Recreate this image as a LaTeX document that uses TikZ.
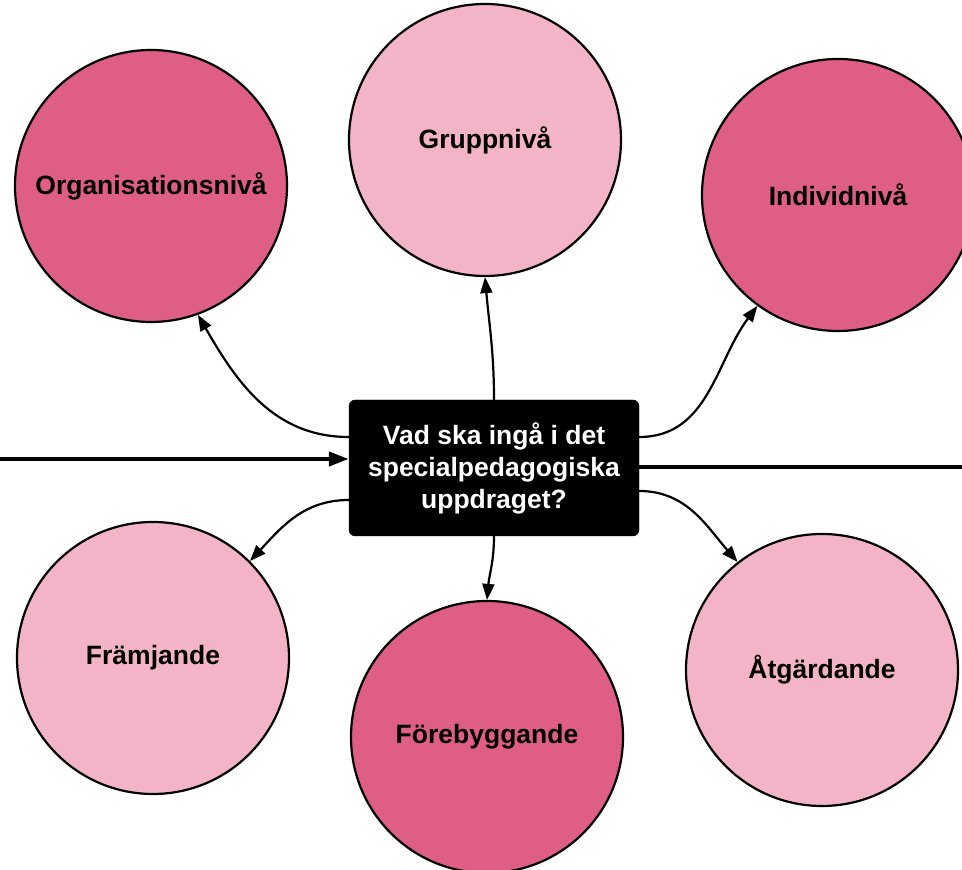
\documentclass[tikz,border=0pt]{standalone}
\usepackage{fontspec}
\setmainfont{Liberation Sans}
\usetikzlibrary{arrows.meta}
\definecolor{darkpink}{HTML}{DE5E86}
\definecolor{lightpink}{HTML}{F4B4C8}
\tikzset{
  bubble/.style={circle, draw=black, line width=2.2pt, minimum size=272pt, inner sep=0pt,
    font=\fontsize{26.5}{32}\selectfont\bfseries},
  darkb/.style={bubble, fill=darkpink},
  lightb/.style={bubble, fill=lightpink},
  qbox/.style={rectangle, rounded corners=6pt, fill=black, draw=black, minimum width=290pt, minimum height=136pt,
    text=white, align=center, font=\fontsize{26.5}{32}\selectfont\bfseries},
  conn/.style={line width=2.2pt, -{Triangle[length=16pt,width=12pt]}},
  thick line/.style={line width=4pt}
}
\begin{document}
\begin{tikzpicture}[x=1pt,y=1pt]
\useasboundingbox (0,0) rectangle (962,870);
\node[qbox] (box) at (494,402) {Vad ska ingå i det\\specialpedagogiska\\uppdraget?};
\node[darkb] (org) at (151,684) {Organisationsnivå};
\node[lightb] (grp) at (485,730) {Gruppnivå};
\node[darkb] (ind) at (838,675) {Individnivå};
\node[lightb] (fram) at (153,212) {Främjande};
\node[darkb] (fore) at (487,133) {Förebyggande};
\node[lightb] (atg) at (822,200) {Åtgärdande};
\coordinate (lend) at (0,411);
\coordinate (rend) at (962,403);
\draw[thick line, -{Triangle[length=20pt,width=14pt]}] (lend) -- ([yshift=9pt]box.west);
\draw[thick line] ([yshift=1pt]box.east) -- (rend);
\draw[conn] ([yshift=31pt]box.west) to[out=180,in=-60] (org.-70);
\draw[conn] (box.north) to[out=90,in=-85] (grp.-90);
\draw[conn] ([yshift=31pt]box.east) to[out=0,in=-127] (ind.-126);
\draw[conn] ([yshift=-32pt]box.west) to[out=180,in=47] (fram.45);
\draw[conn] (box.south) to[out=-90,in=85] (fore.90);
\draw[conn] ([yshift=-23pt]box.east) to[out=0,in=131] (atg.128);
\end{tikzpicture}
\end{document}
